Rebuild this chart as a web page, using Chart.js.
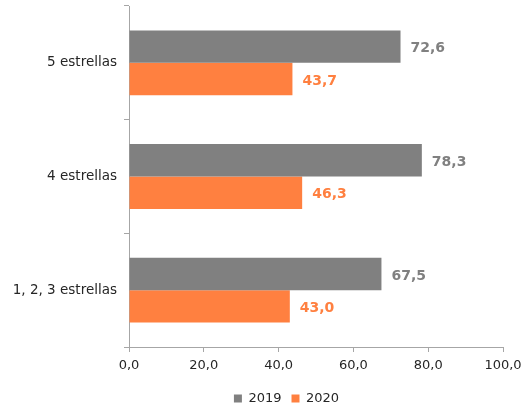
<!DOCTYPE html>
<html>
<head>
<meta charset="utf-8">
<script src="https://cdn.jsdelivr.net/npm/chart.js@4.4.1/dist/chart.umd.min.js"></script>
<style>
  html, body { margin: 0; padding: 0; background: #fff; }
</style>
</head>
<body>
<canvas id="grafico" width="532" height="410"></canvas>
<script>
const categorias = ["5 estrellas", "4 estrellas", "1, 2, 3 estrellas"];
const valores2019 = [72.6, 78.3, 67.5];
const valores2020 = [43.7, 46.3, 43.0];
const ticksX = [0, 20, 40, 60, 80, 100];

const cinza = "#808080";
const laranja = "#ff8040";
const fonte = "'DejaVu Sans', Verdana, sans-serif";
const fmt = v => v.toFixed(1).replace(".", ",");

// rótulos de dados no fim de cada barra
const rotulos = {
  id: "rotulos",
  afterDatasetsDraw(chart) {
    const ctx = chart.ctx;
    ctx.save();
    ctx.font = "bold 14px " + fonte;
    ctx.textBaseline = "middle";
    ctx.textAlign = "left";
    chart.data.datasets.forEach((ds, i) => {
      chart.getDatasetMeta(i).data.forEach((bar, j) => {
        ctx.fillStyle = ds.backgroundColor;
        ctx.fillText(fmt(ds.data[j]), bar.x + 10, bar.y + 2);
      });
    });
    ctx.restore();
  }
};

// legenda um pouco à direita e mais abaixo, como no original
const ajusteLegenda = {
  id: "ajusteLegenda",
  afterLayout(chart) {
    const lg = chart.legend;
    lg.left += 35; lg.right += 35;
    lg.top += 5; lg.bottom += 5;
  }
};

new Chart(document.getElementById("grafico").getContext("2d"), {
  type: "bar",
  data: {
    labels: categorias,
    datasets: [
      { label: "2019", data: valores2019, backgroundColor: cinza },
      { label: "2020", data: valores2020, backgroundColor: laranja }
    ]
  },
  options: {
    indexAxis: "y",
    responsive: false,
    animation: false,
    layout: { padding: { top: 6, right: 29, bottom: 0, left: 0 } },
    datasets: { bar: { categoryPercentage: 0.57, barPercentage: 1 } },
    plugins: {
      tooltip: { enabled: false },
      legend: {
        position: "bottom",
        labels: {
          boxWidth: 8, boxHeight: 8, padding: 10,
          color: "#262626",
          font: { family: fonte, size: 13 }
        }
      }
    },
    scales: {
      x: {
        min: 0, max: 100,
        afterBuildTicks: s => { s.ticks = ticksX.map(v => ({ value: v })); },
        afterFit: s => { s.height = 30; },
        grid: { drawOnChartArea: false, tickLength: 5, color: "#a6a6a6" },
        border: { color: "#a6a6a6" },
        ticks: {
          padding: 6,
          color: "#262626",
          font: { family: fonte, size: 13 },
          callback: v => fmt(v)
        }
      },
      y: {
        afterFit: s => { s.width = 129; s.paddingTop = 0; s.paddingBottom = 0; },
        grid: { drawOnChartArea: false, tickLength: 5, color: "#a6a6a6", offset: true },
        border: { color: "#a6a6a6" },
        ticks: {
          padding: 7,
          color: "#262626",
          font: { family: fonte, size: 13.5 }
        }
      }
    }
  },
  plugins: [rotulos, ajusteLegenda]
});
</script>
</body>
</html>
